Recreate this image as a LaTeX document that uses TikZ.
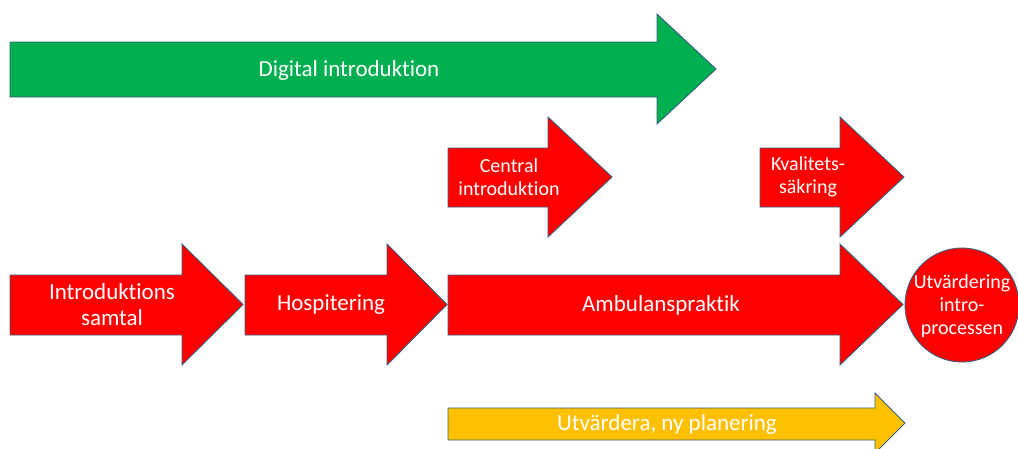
\documentclass[tikz,border=0pt]{standalone}
\usepackage{fontspec}
\setmainfont{Carlito}[Ligatures={NoCommon}]
\definecolor{pgreen}{HTML}{00B050}
\definecolor{pred}{HTML}{FF0000}
\definecolor{pyellow}{HTML}{FFC000}
\definecolor{pline}{HTML}{3A5F80}
\tikzset{
  shp/.style={draw=pline, line width=0.9pt, line join=miter},
  lbl/.style={text=white, align=center, inner sep=0pt, font=\fontsize{20}{23}\selectfont},
  lblbig/.style={lbl, font=\fontsize{23}{26}\selectfont},
}
% #1 fill, #2 left x, #3 head base x, #4 tip x, #5 body top, #6 body bottom, #7 head top, #8 head bottom
\newcommand{\myarrow}[8]{%
  \path[shp, fill=#1] (#2,#5) -- (#3,#5) -- (#3,#7) -- (#4,{(#7+#8)/2}) -- (#3,#8) -- (#3,#6) -- (#2,#6) -- cycle;}
\begin{document}
\begin{tikzpicture}[x=1pt,y=-1pt]
\useasboundingbox (0,0) rectangle (1018,448);
% green
\myarrow{pgreen}{10}{657}{716}{42}{97}{14}{124}
\node[lblbig] (dig) at (349,70) {Digital introduktion};
% central
\myarrow{pred}{448}{548}{612}{148}{207}{117}{237}
\node[lbl] (cen) at (509,177) {Central\\introduktion};
% kvalitet
\myarrow{pred}{760}{840}{904}{148}{207}{117}{237}
\node[lbl] (kva) at (808,177) {Kvalitets-\\säkring};
% bottom row
\myarrow{pred}{10}{182}{243}{275}{335}{244}{365}
\node[lblbig] (int) at (112,305) {Introduktions\\samtal};
\myarrow{pred}{245}{387}{447}{275}{335}{244}{365}
\node[lblbig] (hos) at (331,305) {Hospitering};
\myarrow{pred}{448}{840}{903}{275}{335}{244}{365}
\node[lblbig] (amb) at (661,305) {Ambulanspraktik};
% circle
\draw[shp, fill=pred] (962,305) circle (57);
\node[lbl] (utv) at (962,306) {Utvärdering\\intro-\\processen};
% yellow
\myarrow{pyellow}{448}{875}{905}{408}{440}{393}{453}
\node[lblbig] (ny) at (667,424) {Utvärdera, ny planering};
\end{tikzpicture}
\end{document}
